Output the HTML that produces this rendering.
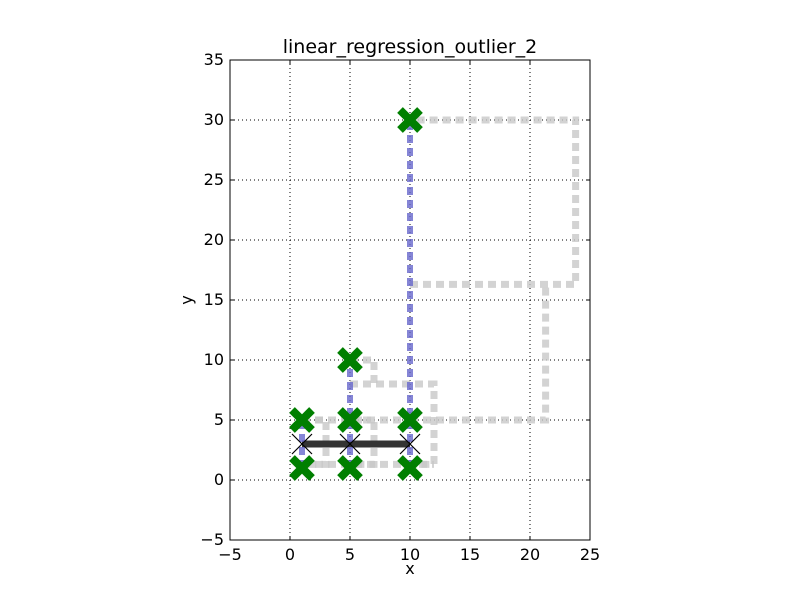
<!DOCTYPE html>
<html><head><meta charset="utf-8"><style>
body{margin:0;background:#fff;}
svg text{font-family:"DejaVu Sans","Liberation Sans",sans-serif;}
</style></head><body>
<svg id="chart" width="800" height="600" xmlns="http://www.w3.org/2000/svg">
<rect width="800" height="600" fill="#fff"/>
<g id="grid"></g>
<g id="gray"></g>
<g id="fitline"></g>
<g id="blue"></g>
<g id="pts"></g>
<g id="axes"></g>
</svg>
<script>
const xTicks=[-5,0,5,10,15,20,25];
const yTicks=[-5,0,5,10,15,20,25,30,35];
const pointX=[1,1,5,5,5,10,10,10];
const pointY=[1,5,1,5,10,1,5,30];
const fitX=[1,5,10];
const fitY=[3,3,3];
const rangeX=[1,5,10];
const rangeLo=[1,1,1];
const rangeHi=[4.6,10,30];
const grayPaths=[
 [[1,5],[3,5],[3,1.3],[1,1.3]],
 [[5,5],[7,5],[7,1.3],[5,1.3]],
 [[5,10],[7,10],[7,8]],
 [[5,8],[12,8],[12,1.3],[10,1.3]],
 [[10,5],[21.3,5],[21.3,16.3]],
 [[10,16.3],[23.8,16.3],[23.8,30],[10,30]],
 [[1,5],[10,5]],[[1,1.3],[12,1.3]]
];
const L=230,R=590,T=60,B=540;
const sx=v=>L+(v+5)/30*(R-L);
const sy=v=>B-(v+5)/40*(B-T);
const NS="http://www.w3.org/2000/svg";
function mk(tag,attrs,parent){const e=document.createElementNS(NS,tag);for(const k in attrs)e.setAttribute(k,attrs[k]);document.getElementById(parent).appendChild(e);return e;}
xTicks.forEach(t=>{
 const g=mk('line',{x1:sx(t),x2:sx(t),y1:T,y2:B,stroke:'#000','stroke-width':1,'stroke-dasharray':'1,3'},'grid');
 
 
 const tx=mk('text',{x:sx(t),y:B+20,'font-size':16,'text-anchor':'middle'},'axes');tx.textContent=t<0?'\u2212'+(-t):t;
 
 
 mk('line',{x1:sx(t),x2:sx(t),y1:B,y2:B-4,stroke:'#000'},'axes');
 mk('line',{x1:sx(t),x2:sx(t),y1:T,y2:T+4,stroke:'#000'},'axes');
});
yTicks.forEach(t=>{
 const g=mk('line',{x1:L,x2:R,y1:sy(t),y2:sy(t),stroke:'#000','stroke-width':1,'stroke-dasharray':'1,3'},'grid');
 
 
 const tx=mk('text',{x:L-6,y:sy(t)+5,'font-size':16,'text-anchor':'end'},'axes');tx.textContent=t<0?'\u2212'+(-t):t;
 
 
 mk('line',{x1:L,x2:L+4,y1:sy(t),y2:sy(t),stroke:'#000'},'axes');
 mk('line',{x1:R,x2:R-4,y1:sy(t),y2:sy(t),stroke:'#000'},'axes');
});
grayPaths.forEach(p=>{
 const e=mk('polyline',{points:p.map(q=>sx(q[0])+','+sy(q[1])).join(' '),fill:'none',stroke:'#c8c8c8','stroke-opacity':0.8,'stroke-width':7,'stroke-dasharray':'8,5'},'gray');
 
 
});
const fl=mk('polyline',{points:fitX.map((x,i)=>sx(x)+','+sy(fitY[i])).join(' '),fill:'none',stroke:'#333','stroke-width':7},'fitline');


rangeX.forEach((x,i)=>{
 const e=mk('line',{x1:sx(x),x2:sx(x),y1:sy(rangeLo[i]),y2:sy(rangeHi[i]),stroke:'#6666cc','stroke-opacity':0.8,'stroke-width':6,'stroke-dasharray':'8,5'},'blue');
 
 
});
fitX.forEach((x,i)=>{
 const cx=sx(x),cy=sy(fitY[i]),s=10;
 const e=mk('path',{d:`M${cx-s},${cy-s}L${cx+s},${cy+s}M${cx-s},${cy+s}L${cx+s},${cy-s}`,stroke:'#000','stroke-width':1.2,fill:'none'},'pts');
 
 
});
pointX.forEach((x,i)=>{
 const cx=sx(x),cy=sy(pointY[i]),s=10;
 const e=mk('path',{d:`M${cx-s},${cy-s}L${cx+s},${cy+s}M${cx-s},${cy+s}L${cx+s},${cy-s}`,stroke:'#007f00','stroke-width':8,fill:'none'},'pts');
 
 
});
const fr=mk('rect',{x:L,y:T,width:R-L,height:B-T,fill:'none',stroke:'#000','stroke-width':1},'axes');


const ti=mk('text',{x:410,y:53,'font-size':19,'text-anchor':'middle'},'axes');ti.textContent='linear_regression_outlier_2';


const xl=mk('text',{x:410,y:574,'font-size':16,'text-anchor':'middle'},'axes');xl.textContent='x';


const yl=mk('text',{x:192,y:300,'font-size':16,'text-anchor':'middle',transform:'rotate(-90 192 300)'},'axes');yl.textContent='y';


</script>
</body></html>
